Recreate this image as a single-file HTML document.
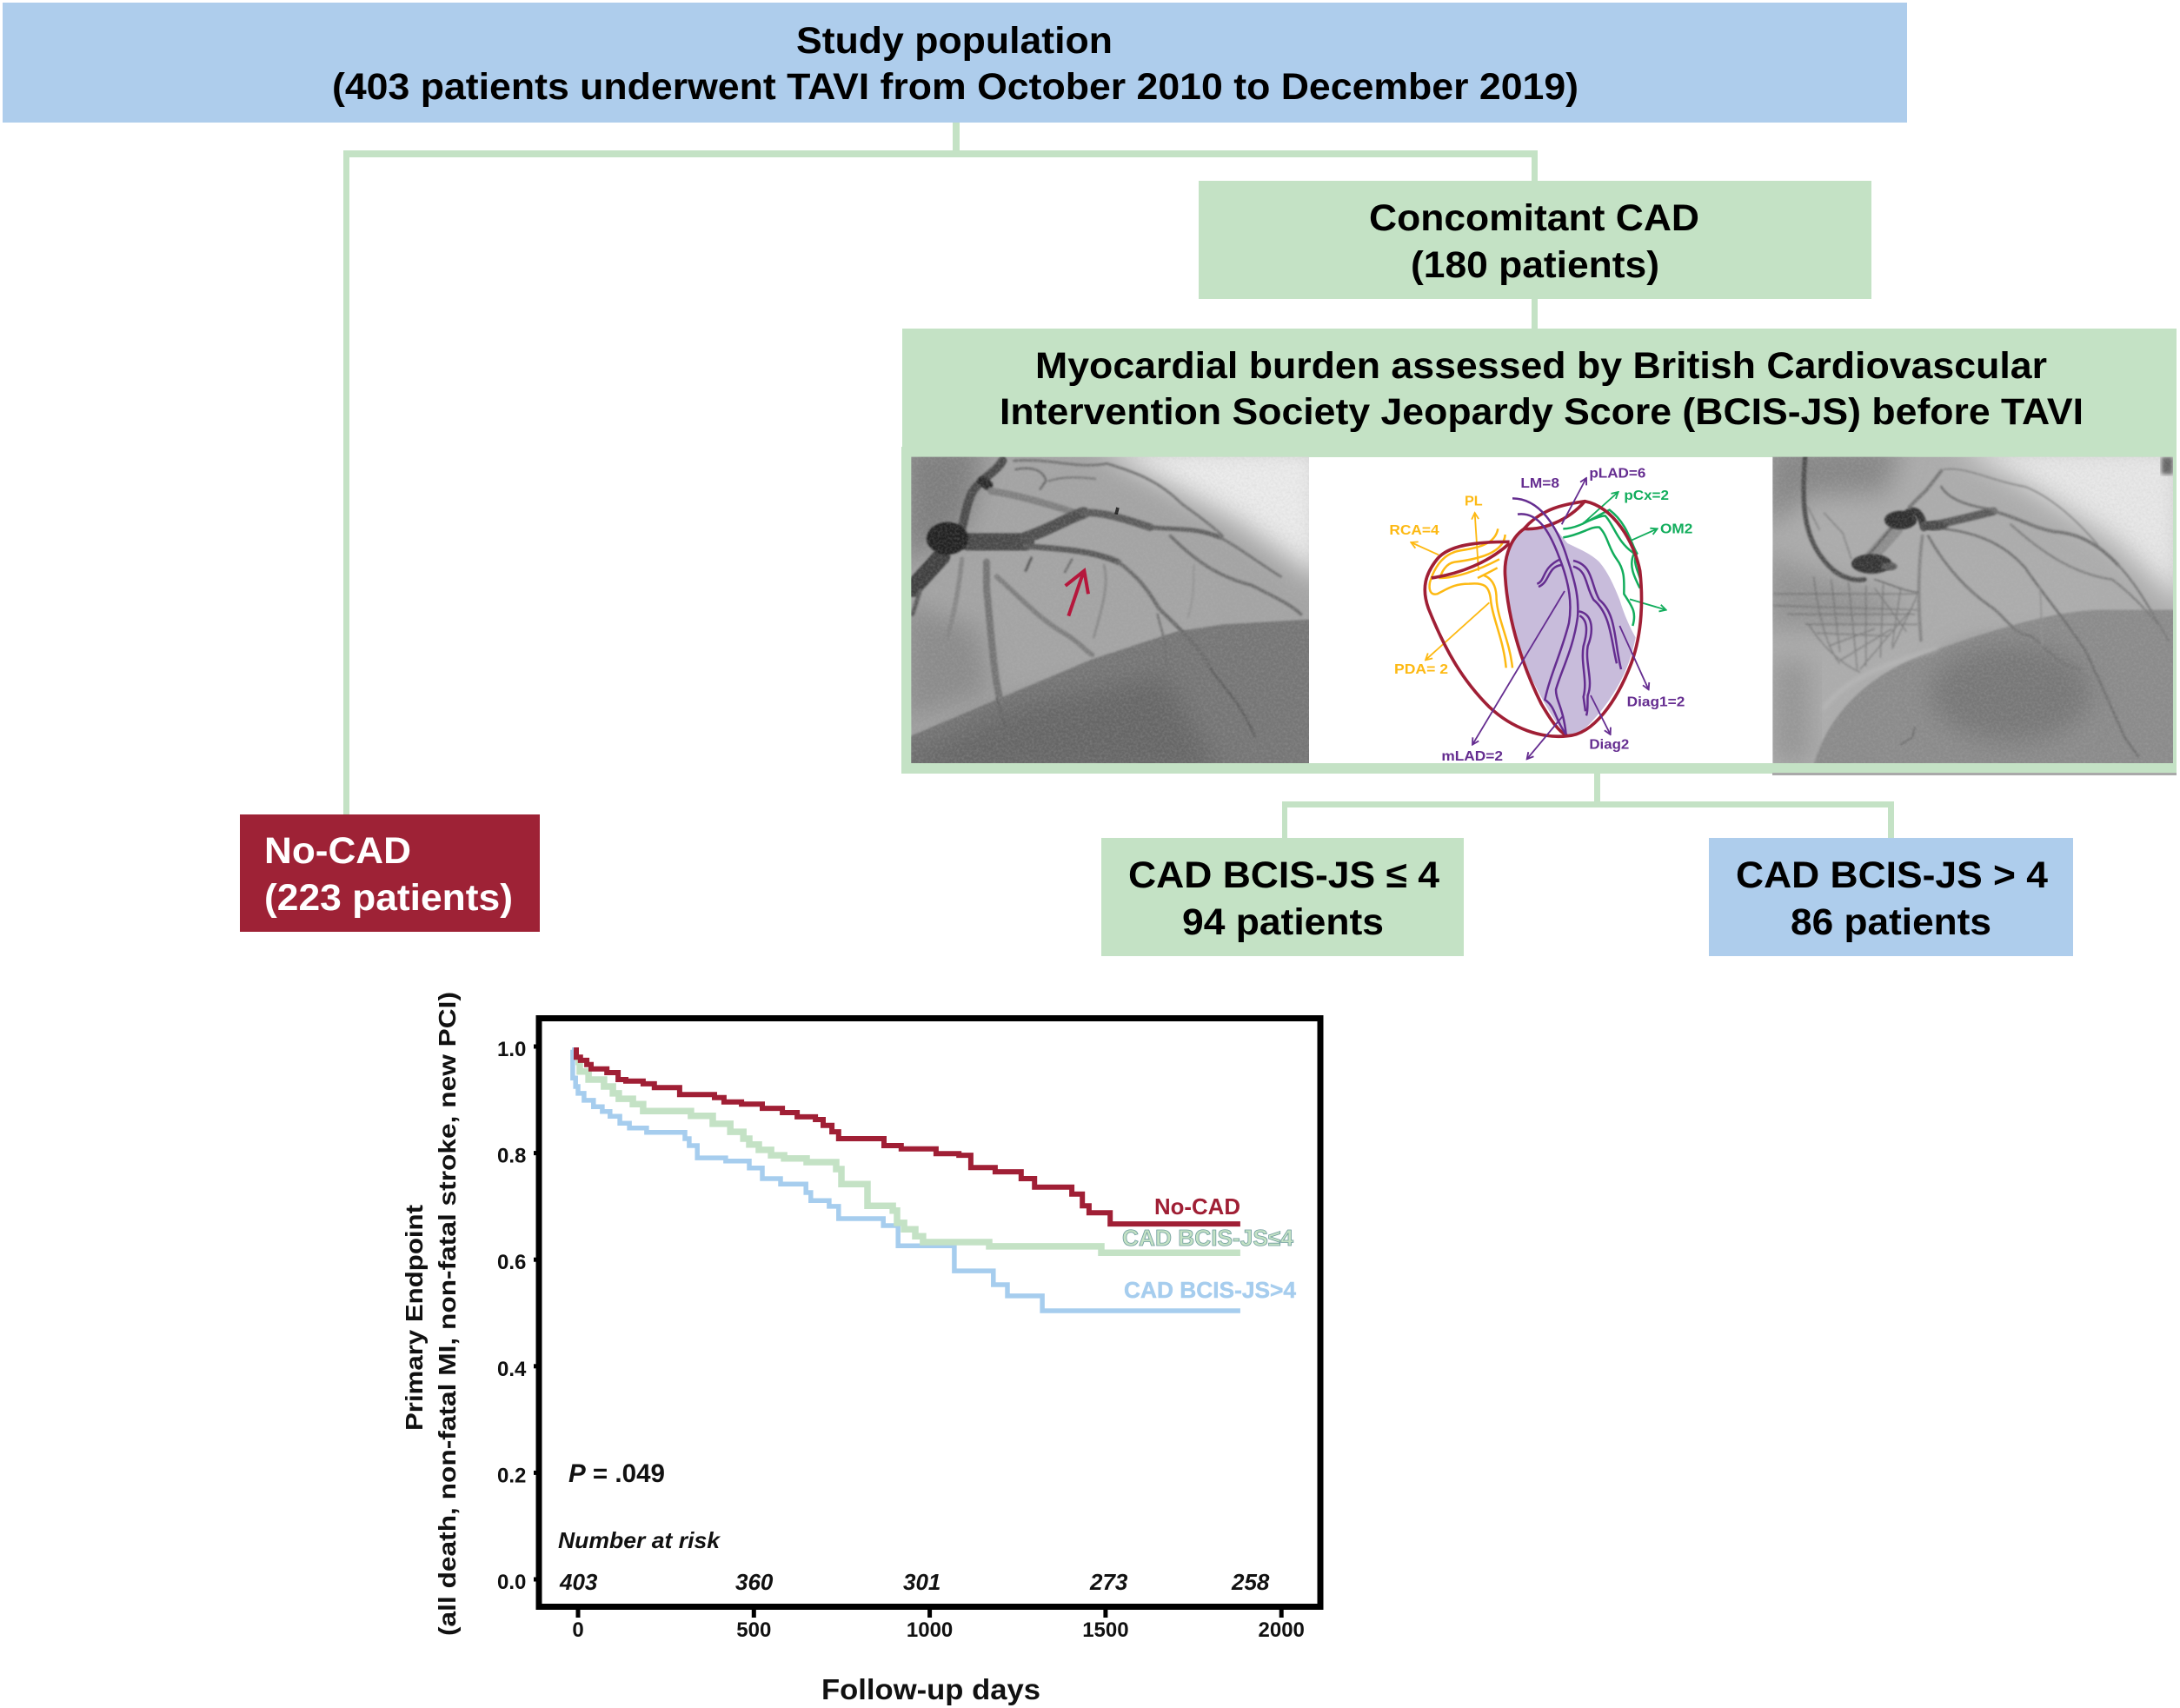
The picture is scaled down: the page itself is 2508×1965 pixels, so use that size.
<!DOCTYPE html>
<html lang="en">
<head>
<meta charset="utf-8">
<title>TAVI study flowchart and Kaplan-Meier curve</title>
<style>
html,body{margin:0;padding:0;background:#fff}
svg{display:block}
text{font-family:"Liberation Sans",Arial,sans-serif}
.b{font-weight:700}
.box{font-weight:700;font-size:43px;fill:#000}
.tick{font-weight:700;font-size:24px;fill:#111}
.risk{font-weight:700;font-style:italic;font-size:26px;fill:#111}
.hl{font-weight:700;font-size:48px}
</style>
</head>
<body>
<svg id="figure" xmlns="http://www.w3.org/2000/svg" width="2508" height="1965" viewBox="0 0 2508 1965">
<defs>
<filter id="blurBig" x="-30%" y="-30%" width="160%" height="160%"><feGaussianBlur stdDeviation="45"/></filter>
<filter id="blurMid" x="-10%" y="-10%" width="120%" height="120%"><feGaussianBlur stdDeviation="7"/></filter>
<filter id="blurSmall" x="-10%" y="-10%" width="120%" height="120%"><feGaussianBlur stdDeviation="3.5"/></filter>
<filter id="grain" x="0" y="0" width="100%" height="100%"><feTurbulence type="fractalNoise" baseFrequency="0.12" numOctaves="3" seed="7"/><feColorMatrix type="matrix" values="0 0 0 0 0.5  0 0 0 0 0.5  0 0 0 0 0.5  1.2 0 0 0 -0.42"/></filter>
<clipPath id="clipLeft"><rect x="25" y="47" width="1373" height="1057"/></clipPath>
<clipPath id="clipRight"><rect x="28" y="47" width="1382" height="1057"/></clipPath>
<marker id="arrowYellow" viewBox="0 0 30 30" refX="26" refY="15" markerWidth="30" markerHeight="30" markerUnits="userSpaceOnUse" orient="auto"><path d="M4 3 L26 15 L4 27" fill="none" stroke="#fdb913" stroke-width="5.5"/></marker>
<marker id="arrowGreen" viewBox="0 0 30 30" refX="26" refY="15" markerWidth="30" markerHeight="30" markerUnits="userSpaceOnUse" orient="auto"><path d="M4 3 L26 15 L4 27" fill="none" stroke="#12ad5c" stroke-width="5.5"/></marker>
<marker id="arrowPurple" viewBox="0 0 30 30" refX="26" refY="15" markerWidth="30" markerHeight="30" markerUnits="userSpaceOnUse" orient="auto"><path d="M4 3 L26 15 L4 27" fill="none" stroke="#652d90" stroke-width="5.5"/></marker>
</defs>

<!-- Flowchart connectors -->
<g fill="#c4e2c5">
<rect x="1096" y="140" width="8" height="36"/>
<rect x="395" y="173" width="1374" height="8"/>
<rect x="395" y="173" width="7" height="765"/>
<rect x="1762" y="173" width="7" height="36"/>
<rect x="1762" y="343" width="7" height="36"/>
<rect x="1834" y="889" width="7" height="36"/>
<rect x="1475" y="922" width="704" height="7"/>
<rect x="1475" y="922" width="6" height="43"/>
<rect x="2172" y="922" width="7" height="43"/>
</g>

<!-- Flowchart boxes -->
<g>
<rect x="3" y="3" width="2191" height="138" fill="#aecdec"/>
<text class="box" x="916" y="61" textLength="364" lengthAdjust="spacingAndGlyphs">Study population</text>
<text class="box" x="382" y="114" textLength="1434" lengthAdjust="spacingAndGlyphs">(403 patients underwent TAVI from October 2010 to December 2019)</text>
</g>
<g>
<rect x="1379" y="208" width="774" height="136" fill="#c4e2c5"/>
<text class="box" x="1575" y="265" textLength="380" lengthAdjust="spacingAndGlyphs">Concomitant CAD</text>
<text class="box" x="1623" y="319" textLength="286" lengthAdjust="spacingAndGlyphs">(180 patients)</text>
</g>
<g>
<rect x="1038" y="378" width="1466" height="136" fill="#c4e2c5"/>
<text class="box" x="1191" y="435" textLength="1164" lengthAdjust="spacingAndGlyphs">Myocardial burden assessed by British Cardiovascular</text>
<text class="box" x="1150" y="488" textLength="1247" lengthAdjust="spacingAndGlyphs">Intervention Society Jeopardy Score (BCIS-JS) before TAVI</text>
</g>
<rect x="1037" y="514" width="1467" height="376" fill="#c4e2c5"/>
<rect x="2039" y="889" width="465" height="3" fill="#a9a9a9"/>
<rect x="1506" y="526" width="534" height="352" fill="#fff"/>

<!-- Left angiogram -->
<g transform="translate(1040,510) scale(0.33333)">
<g clip-path="url(#clipLeft)">
<rect x="25" y="47" width="1373" height="1057" fill="#a4a4a4"/>
<polygon points="650,0 1450,0 1450,480 1150,270 850,110" fill="#ececec" filter="url(#blurBig)"/>
<polygon points="0,0 280,0 220,280 0,420" fill="#7e7e7e" filter="url(#blurBig)"/>
<polygon points="0,550 260,640 300,860 0,960" fill="#8b8b8b" filter="url(#blurBig)"/>
<polygon points="0,1020 650,745 940,650 1100,625 1450,605 1450,1150 0,1150" fill="#767676" filter="url(#blurSmall)"/>
<polygon points="0,1090 400,900 900,800 1100,1150 0,1150" fill="#666" filter="url(#blurBig)"/>
<g fill="none" stroke-linecap="round" filter="url(#blurSmall)">
<path d="M30 500 L130 390" stroke="#404040" stroke-width="60"/>
<path d="M30 590 L55 510" stroke="#5c5c5c" stroke-width="14"/>
<path d="M340 60 C320 100 250 130 230 180 C210 230 210 260 200 290" stroke="#4c4c4c" stroke-width="30"/>
<path d="M270 130 L290 145" stroke="#2c2c2c" stroke-width="34"/>
<path d="M300 165 C400 180 500 210 590 240" stroke="#808080" stroke-width="24"/>
<path d="M220 340 L420 340" stroke="#484848" stroke-width="60"/>
<path d="M420 325 C500 300 560 260 620 240" stroke="#505050" stroke-width="40"/>
<path d="M620 240 C680 235 760 260 850 290" stroke="#5c5c5c" stroke-width="26"/>
<path d="M850 290 C950 300 1010 290 1090 325" stroke="#606060" stroke-width="15"/>
<path d="M1090 325 C1150 355 1220 410 1300 460" stroke="#727272" stroke-width="9"/>
<path d="M420 355 C550 365 650 370 740 410" stroke="#5a5a5a" stroke-width="20"/>
<path d="M740 410 C820 470 850 520 880 570 C950 640 1020 700 1060 780" stroke="#6c6c6c" stroke-width="13"/>
<path d="M1060 780 C1100 840 1160 890 1210 1010" stroke="#5c5c5c" stroke-width="7"/>
<path d="M285 410 L285 500 C300 650 310 800 330 880" stroke="#757575" stroke-width="24"/>
<path d="M200 400 C190 500 170 600 150 670" stroke="#878787" stroke-width="16"/>
<path d="M380 60 C500 50 600 90 700 70 C800 100 880 130 960 210 C1030 260 1080 300 1100 320" stroke="#757575" stroke-width="9"/>
<path d="M385 90 C440 80 480 90 490 130 L470 158" stroke="#666" stroke-width="7"/>
<path d="M500 130 C560 110 620 120 660 122" stroke="#787878" stroke-width="7"/>
<path d="M920 320 C1000 400 1080 460 1200 490 C1280 530 1340 560 1370 590" stroke="#6e6e6e" stroke-width="11"/>
<path d="M320 460 C400 530 470 610 560 660 C610 690 630 720 650 730" stroke="#7f7f7f" stroke-width="17"/>
<path d="M690 420 C710 490 680 580 655 670" stroke="#888" stroke-width="8"/>
<path d="M875 590 C885 640 910 680 905 780" stroke="#707070" stroke-width="7"/>
<path d="M440 395 L420 440" stroke="#525252" stroke-width="8"/>
<path d="M580 400 L555 445" stroke="#686868" stroke-width="7"/>
<path d="M1000 420 C1000 490 1000 540 980 600" stroke="#939393" stroke-width="6"/>
<path d="M320 880 L350 980" stroke="#606060" stroke-width="6"/>
</g>
<ellipse cx="150" cy="328" rx="72" ry="56" fill="#222" filter="url(#blurSmall)"/>
<path d="M738 222 L732 245" stroke="#222" stroke-width="11"/>
<rect x="25" y="47" width="1373" height="1057" filter="url(#grain)" opacity=".35"/>
<path d="M568 596 L620 442 M557 492 L622 440 L636 520" fill="none" stroke="#b5173c" stroke-width="12"/>
</g>
</g>

<!-- Heart diagram -->
<g transform="translate(1540,530) scale(0.33333)">
<path d="M640 235 L740 225 L790 285 C830 305 870 320 900 350 C930 385 950 430 970 480 C985 530 1005 575 1025 610 C1005 720 950 820 870 905 C840 935 815 950 790 950 C740 900 690 800 650 720 C610 620 585 500 575 400 C570 340 590 280 640 235 Z" fill="#c8bcdb"/>
<g fill="none" stroke="#fdb913" stroke-width="7.5">
<path d="M550 235 C540 290 480 300 420 310 C360 320 330 370 315 420 C310 450 320 465 340 460 C380 440 400 425 450 425 C500 420 520 430 525 480 C530 540 570 620 578 715"/>
<path d="M575 255 C570 320 480 340 400 350 C370 355 355 385 350 405 C400 405 480 380 555 340"/>
<path d="M480 405 C500 395 530 380 548 370 M500 395 C540 410 545 450 545 480 C550 550 590 620 600 715"/>
<path d="M345 325 L250 282" marker-end="url(#arrowYellow)" stroke-width="5.5"/>
<path d="M483 380 L470 180" marker-end="url(#arrowYellow)" stroke-width="5.5"/>
<path d="M520 490 L300 688" marker-end="url(#arrowYellow)" stroke-width="5.5"/>
</g>
<g fill="none" stroke="#12ad5c" stroke-width="7.5">
<path d="M775 235 C830 235 880 195 935 170 C1000 220 1010 290 1030 320 C1010 350 1040 390 1045 425"/>
<path d="M775 265 C840 255 870 225 900 230 C930 260 930 300 960 340 C990 380 985 420 985 460 C1010 500 1030 520 1015 570"/>
<path d="M845 215 C870 205 900 190 920 190 C950 220 960 280 1020 320 C1000 360 1020 400 1040 440"/>
<path d="M840 220 L965 108" marker-end="url(#arrowGreen)" stroke-width="5.5"/>
<path d="M1010 275 L1100 235" marker-end="url(#arrowGreen)" stroke-width="5.5"/>
<path d="M1005 478 L1130 515" marker-end="url(#arrowGreen)" stroke-width="5.5"/>
</g>
<g fill="none" stroke="#a01f35" stroke-width="11">
<path d="M590 280 C480 280 380 290 340 340 C300 390 285 440 310 510 C370 660 430 760 520 850 C600 925 700 960 790 950"/>
<path d="M320 405 C420 390 520 350 590 285"/>
<path d="M640 235 C590 270 570 340 575 400 C585 560 640 720 700 840 C735 900 760 935 790 950 C880 945 960 830 1010 700 C1050 590 1050 470 1040 380 C1020 280 950 160 850 140 C780 150 700 165 640 235 Z"/>
<path d="M640 235 C700 240 790 210 850 140"/>
</g>
<g fill="none" stroke="#652d90" stroke-width="7.5">
<path d="M600 130 C700 130 760 240 790 340 C820 430 830 480 825 540 C810 650 770 720 750 790 C750 830 775 850 785 945"/>
<path d="M618 185 C690 175 730 250 760 330 C800 430 805 500 795 560 C770 660 730 740 712 825 C750 850 745 890 785 945"/>
<path d="M685 425 C715 415 700 370 765 340 M690 435 C730 420 720 365 770 360"/>
<path d="M810 345 C880 360 870 430 900 480 C960 530 950 620 975 720 M810 365 C860 380 850 430 880 480 C940 530 940 620 960 700"/>
<path d="M830 520 C880 530 880 590 860 640 C850 700 880 760 860 810 C858 830 862 860 855 880 M832 535 C860 550 860 590 845 640 C835 700 860 760 845 815 L852 865"/>
<path d="M770 220 L855 60" marker-end="url(#arrowPurple)" stroke-width="5.5"/>
<path d="M780 450 L462 980" marker-end="url(#arrowPurple)" stroke-width="5.5"/>
<path d="M775 880 L650 1030" marker-end="url(#arrowPurple)" stroke-width="5.5"/>
<path d="M970 570 L1070 790" marker-end="url(#arrowPurple)" stroke-width="5.5"/>
<path d="M870 810 L938 945" marker-end="url(#arrowPurple)" stroke-width="5.5"/>
</g>
<text class="hl" x="628" y="93" fill="#652d90" textLength="134" lengthAdjust="spacingAndGlyphs">LM=8</text>
<text class="hl" x="865" y="58" fill="#652d90" textLength="195" lengthAdjust="spacingAndGlyphs">pLAD=6</text>
<text class="hl" x="985" y="135" fill="#12ad5c" textLength="155" lengthAdjust="spacingAndGlyphs">pCx=2</text>
<text class="hl" x="1110" y="250" fill="#12ad5c" textLength="112" lengthAdjust="spacingAndGlyphs">OM2</text>
<text class="hl" x="435" y="155" fill="#fdb913" textLength="62" lengthAdjust="spacingAndGlyphs">PL</text>
<text class="hl" x="175" y="255" fill="#fdb913" textLength="172" lengthAdjust="spacingAndGlyphs">RCA=4</text>
<text class="hl" x="192" y="735" fill="#fdb913" textLength="186" lengthAdjust="spacingAndGlyphs">PDA= 2</text>
<text class="hl" x="995" y="848" fill="#652d90" textLength="200" lengthAdjust="spacingAndGlyphs">Diag1=2</text>
<text class="hl" x="865" y="995" fill="#652d90" textLength="138" lengthAdjust="spacingAndGlyphs">Diag2</text>
<text class="hl" x="355" y="1035" fill="#652d90" textLength="212" lengthAdjust="spacingAndGlyphs">mLAD=2</text>
</g>

<!-- Right angiogram -->
<g transform="translate(2030,510) scale(0.33333)">
<g clip-path="url(#clipRight)">
<rect x="28" y="47" width="1382" height="1057" fill="#acacac"/>
<polygon points="650,0 1450,0 1450,560 1200,330 900,140" fill="#e8e8e8" filter="url(#blurBig)"/>
<polygon points="0,0 480,0 420,170 150,180 0,300" fill="#868686" filter="url(#blurBig)"/>
<polygon points="0,380 180,450 520,560 320,640 0,640" fill="#939393" filter="url(#blurBig)"/>
<rect x="28" y="750" width="130" height="354" fill="#949494" filter="url(#blurBig)"/>
<path d="M160 1150 C200 950 350 790 600 710 C800 640 1000 580 1150 575 L1450 575 L1450 1150 Z" fill="#8b8b8b" filter="url(#blurSmall)"/>
<ellipse cx="850" cy="860" rx="280" ry="170" fill="#777" filter="url(#blurBig)"/>
<path d="M200 920 C280 810 420 760 600 710" fill="none" stroke="#c4c4c4" stroke-width="14" opacity=".45" filter="url(#blurMid)"/>
<rect x="1370" y="47" width="40" height="60" fill="#666" filter="url(#blurMid)"/>
<g fill="none" stroke="#555" stroke-width="4" opacity=".55" filter="url(#blurSmall)">
<path d="M30 520 H530 M30 560 L530 575 M80 590 H520 M140 625 H530 M180 655 L430 665"/>
<path d="M170 460 C180 560 210 700 260 760 M230 470 L260 720 M290 480 L320 780 M350 490 L350 770 M410 480 L400 740 M470 500 L440 700"/>
<path d="M150 620 C190 690 260 760 330 790 M220 700 L380 640 M260 750 L440 640 M330 780 L500 580 M440 710 L530 520 M380 500 L490 650"/>
<path d="M150 220 L190 300 M205 240 L270 310 L300 400"/>
</g>
<g fill="none" stroke-linecap="round" filter="url(#blurSmall)">
<path d="M140 47 C130 200 125 340 240 440 C280 470 320 475 345 470" stroke="#505050" stroke-width="16"/>
<path d="M455 295 L370 390" stroke="#8e8e8e" stroke-width="46"/>
<path d="M445 285 L360 385" stroke="#606060" stroke-width="8"/>
<path d="M495 240 C520 225 540 240 550 290" stroke="#333" stroke-width="26"/>
<path d="M550 285 C620 280 720 250 790 235" stroke="#5a5a5a" stroke-width="28"/>
<path d="M790 235 C860 250 920 290 1000 305 C1080 310 1150 345 1220 420" stroke="#727272" stroke-width="11"/>
<path d="M1220 420 C1290 490 1350 610 1395 680" stroke="#787878" stroke-width="7"/>
<path d="M620 295 C740 310 830 350 900 430 C960 520 1040 610 1110 720 C1150 810 1190 890 1240 1010 L1290 1080" stroke="#707070" stroke-width="8"/>
<path d="M565 320 C620 420 700 510 790 570 C840 610 860 660 920 665 C980 710 1000 760 1090 780" stroke="#767676" stroke-width="9"/>
<path d="M545 320 C530 430 530 560 540 680" stroke="#868686" stroke-width="11"/>
<path d="M500 220 L560 160 L610 95" stroke="#787878" stroke-width="12"/>
<path d="M610 150 C640 200 720 220 800 230" stroke="#6e6e6e" stroke-width="8"/>
<path d="M620 90 C700 80 780 130 900 150 C1000 190 1090 280 1150 350" stroke="#828282" stroke-width="5"/>
<path d="M850 280 C950 370 1060 450 1200 470 C1280 530 1350 610 1390 670" stroke="#7e7e7e" stroke-width="7"/>
<path d="M950 500 C960 590 950 640 960 700" stroke="#919191" stroke-width="5"/>
<path d="M380 470 C430 485 480 510 530 515" stroke="#5c5c5c" stroke-width="4"/>
<path d="M520 980 L510 1015 L470 1040" stroke="#626262" stroke-width="4"/>
</g>
<ellipse cx="470" cy="265" rx="56" ry="32" fill="#2f2f2f" filter="url(#blurSmall)"/>
<ellipse cx="370" cy="416" rx="70" ry="34" fill="#353535" filter="url(#blurSmall)"/>
<ellipse cx="430" cy="425" rx="28" ry="14" fill="#5a5a5a" filter="url(#blurSmall)"/>
<ellipse cx="585" cy="285" rx="48" ry="16" fill="#4a4a4a" filter="url(#blurSmall)"/>
<rect x="28" y="47" width="1382" height="1057" filter="url(#grain)" opacity=".35"/>
</g>
</g>

<!-- Outcome boxes -->
<g>
<rect x="276" y="937" width="345" height="135" fill="#9e2236"/>
<text class="box" style="fill:#fff" x="304" y="993" textLength="169" lengthAdjust="spacingAndGlyphs">No-CAD</text>
<text class="box" style="fill:#fff" x="304" y="1047" textLength="286" lengthAdjust="spacingAndGlyphs">(223 patients)</text>
</g>
<g>
<rect x="1267" y="964" width="417" height="136" fill="#c4e2c5"/>
<text class="box" x="1298" y="1021" textLength="358" lengthAdjust="spacingAndGlyphs">CAD BCIS-JS ≤ 4</text>
<text class="box" x="1360" y="1075" textLength="232" lengthAdjust="spacingAndGlyphs">94 patients</text>
</g>
<g>
<rect x="1966" y="964" width="419" height="136" fill="#aecdec"/>
<text class="box" x="1997" y="1021" textLength="359" lengthAdjust="spacingAndGlyphs">CAD BCIS-JS &gt; 4</text>
<text class="box" x="2060" y="1075" textLength="231" lengthAdjust="spacingAndGlyphs">86 patients</text>
</g>

<!-- Kaplan-Meier chart -->
<g id="chart">
<g id="series"></g>
<rect x="620" y="1171.5" width="899" height="677" fill="none" stroke="#000" stroke-width="7"/>
<g id="xaxis"></g>
<g id="yaxis"></g>
<text class="b" transform="translate(486,1646) rotate(-90)" font-size="28" fill="#111" textLength="260" lengthAdjust="spacingAndGlyphs">Primary Endpoint</text>
<text class="b" transform="translate(524,1882) rotate(-90)" font-size="28" fill="#111" textLength="741" lengthAdjust="spacingAndGlyphs">(all death, non-fatal MI, non-fatal stroke, new PCI)</text>
<text class="b" x="945" y="1955" font-size="33" fill="#111" textLength="252" lengthAdjust="spacingAndGlyphs">Follow-up days</text>
<text x="654" y="1705" font-size="30" font-weight="700" fill="#111" textLength="111" lengthAdjust="spacingAndGlyphs"><tspan font-style="italic">P</tspan> = .049</text>
<text class="risk" x="642" y="1781" textLength="186" lengthAdjust="spacingAndGlyphs">Number at risk</text>
<text class="risk" x="644" y="1829">403</text>
<text class="risk" x="846" y="1829">360</text>
<text class="risk" x="1039" y="1829">301</text>
<text class="risk" x="1254" y="1829">273</text>
<text class="risk" x="1417" y="1829">258</text>
<text class="b" x="1328" y="1397" font-size="26" fill="#a01f35" textLength="99" lengthAdjust="spacingAndGlyphs">No-CAD</text>
<text class="b" x="1291" y="1433" font-size="26" fill="#c4e2c5" stroke="#6f9d9d" stroke-width="0.8" textLength="197" lengthAdjust="spacingAndGlyphs">CAD BCIS-JS≤4</text>
<text class="b" x="1293" y="1493" font-size="26" fill="#a6cdee" stroke="#a6cdee" stroke-width="0.5" textLength="198" lengthAdjust="spacingAndGlyphs">CAD BCIS-JS&gt;4</text>
</g>
</svg>

<script>
const xTickValues = [0, 500, 1000, 1500, 2000];
const yTickValues = [0, 0.2, 0.4, 0.6, 0.8, 1.0];

const noCadDays = [-12, -5, 7, 25, 37, 82, 114, 136, 185, 217, 289, 388, 415, 465, 524, 581, 623, 675, 697, 722, 741, 870, 919, 1018, 1083, 1117, 1186, 1260, 1298, 1404, 1434, 1453, 1513, 1883];
const noCadSurvival = [0.9935, 0.980, 0.974, 0.966, 0.958, 0.951, 0.938, 0.935, 0.930, 0.923, 0.910, 0.904, 0.896, 0.892, 0.884, 0.876, 0.868, 0.863, 0.852, 0.840, 0.827, 0.814, 0.808, 0.799, 0.796, 0.773, 0.765, 0.752, 0.736, 0.723, 0.701, 0.688, 0.667, 0.667];

const lowScoreDays = [-7, 5, 30, 74, 99, 116, 156, 185, 321, 383, 433, 470, 487, 514, 549, 586, 650, 734, 749, 823, 895, 907, 927, 959, 981, 1169, 1488, 1883];
const lowScoreSurvival = [0.971, 0.953, 0.938, 0.925, 0.912, 0.902, 0.892, 0.879, 0.870, 0.855, 0.840, 0.827, 0.816, 0.806, 0.796, 0.790, 0.783, 0.770, 0.742, 0.701, 0.692, 0.669, 0.657, 0.644, 0.633, 0.625, 0.613, 0.613];

const highScoreDays = [-17, -15, -7, 0, 17, 44, 69, 91, 119, 146, 195, 304, 316, 339, 420, 487, 524, 576, 648, 662, 714, 741, 868, 910, 1070, 1181, 1221, 1320, 1883];
const highScoreSurvival = [0.994, 0.941, 0.925, 0.912, 0.899, 0.887, 0.878, 0.869, 0.856, 0.847, 0.839, 0.827, 0.814, 0.791, 0.785, 0.772, 0.752, 0.742, 0.726, 0.711, 0.700, 0.677, 0.664, 0.626, 0.579, 0.553, 0.532, 0.504, 0.504];

const SVG_NS = 'http://www.w3.org/2000/svg';
function xScale(day) { return 665 + 0.4046 * day; }
function yScale(value) { return 1817 - 613 * value; }

function stepPath(days, survival) {
  let d = 'M' + xScale(days[0]).toFixed(1) + ' ' + yScale(survival[0]).toFixed(1);
  for (let i = 1; i < days.length; i++) {
    d += 'H' + xScale(days[i]).toFixed(1) + 'V' + yScale(survival[i]).toFixed(1);
  }
  return d;
}

const seriesGroup = document.getElementById('series');

const highLine = document.createElementNS(SVG_NS, 'path');


highLine.setAttribute('d', stepPath(highScoreDays, highScoreSurvival));
highLine.setAttribute('fill', 'none');
highLine.setAttribute('stroke', '#a6cdee');
highLine.setAttribute('stroke-width', '5.5');
seriesGroup.appendChild(highLine);

const lowLine = document.createElementNS(SVG_NS, 'path');


lowLine.setAttribute('d', stepPath(lowScoreDays, lowScoreSurvival));
lowLine.setAttribute('fill', 'none');
lowLine.setAttribute('stroke', '#c4e2c5');
lowLine.setAttribute('stroke-width', '7.5');
seriesGroup.appendChild(lowLine);

const redLine = document.createElementNS(SVG_NS, 'path');


redLine.setAttribute('d', stepPath(noCadDays, noCadSurvival));
redLine.setAttribute('fill', 'none');
redLine.setAttribute('stroke', '#a01f35');
redLine.setAttribute('stroke-width', '6');
seriesGroup.appendChild(redLine);

const xAxis = document.getElementById('xaxis');
xTickValues.forEach(function (value) {
  const tick = document.createElementNS(SVG_NS, 'rect');
  
  
  tick.setAttribute('x', xScale(value) - 2.5);
  tick.setAttribute('y', 1850);
  tick.setAttribute('width', 5);
  tick.setAttribute('height', 11);
  tick.setAttribute('fill', '#000');
  xAxis.appendChild(tick);

  const label = document.createElementNS(SVG_NS, 'text');
  
  
  label.setAttribute('class', 'tick');
  label.setAttribute('x', xScale(value));
  label.setAttribute('y', 1883);
  label.setAttribute('text-anchor', 'middle');
  label.textContent = String(value);
  xAxis.appendChild(label);
});

const yAxis = document.getElementById('yaxis');
yTickValues.forEach(function (value) {
  const tick = document.createElementNS(SVG_NS, 'rect');
  
  
  tick.setAttribute('x', 614);
  tick.setAttribute('y', yScale(value) - 2.5);
  tick.setAttribute('width', 6);
  tick.setAttribute('height', 5);
  tick.setAttribute('fill', '#000');
  yAxis.appendChild(tick);

  const label = document.createElementNS(SVG_NS, 'text');
  
  
  label.setAttribute('class', 'tick');
  label.setAttribute('x', 572);
  label.setAttribute('y', yScale(value) + 11);
  label.textContent = value.toFixed(1);
  yAxis.appendChild(label);
});
</script>
</body>
</html>
